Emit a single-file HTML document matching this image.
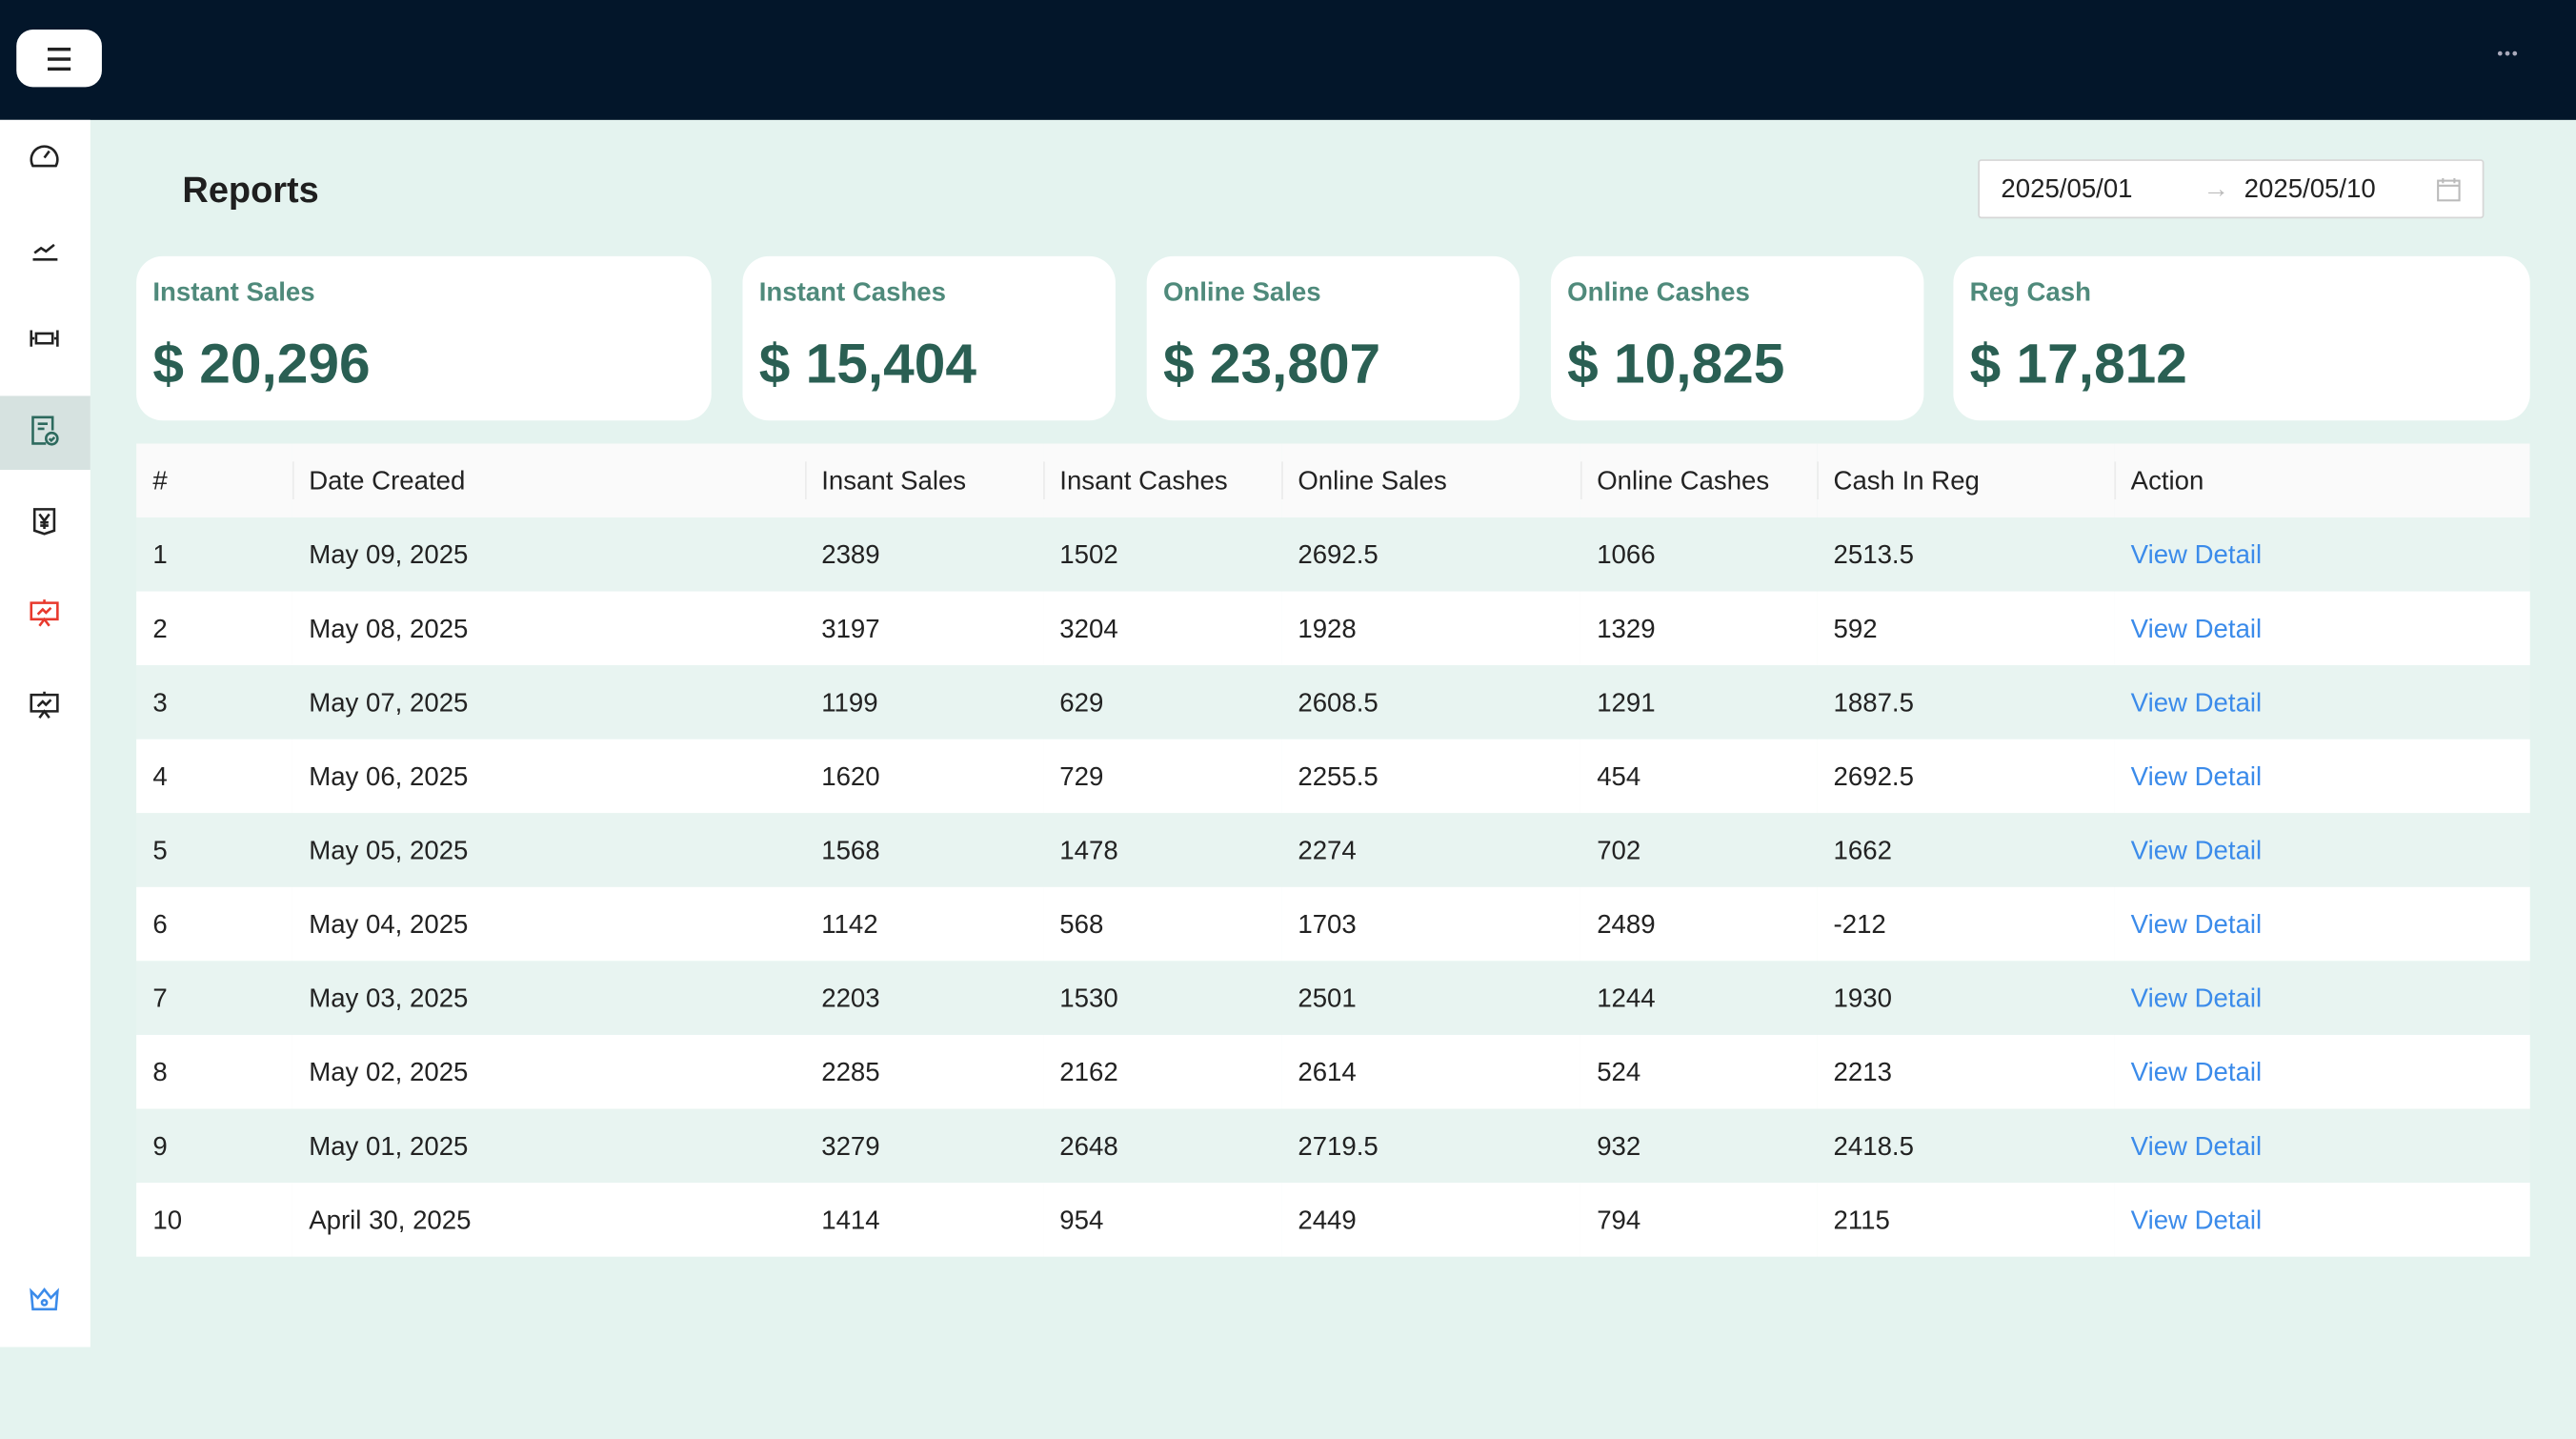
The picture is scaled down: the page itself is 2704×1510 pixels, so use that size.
<!DOCTYPE html>
<html><head><meta charset="utf-8"><style>
*{margin:0;padding:0;box-sizing:border-box}
html,body{width:2704px;height:1510px;overflow:hidden;background:#e4f3ef}
#w{width:1568px;height:876px;position:absolute;left:0;top:0;transform:scale(1.72449,1.72374);transform-origin:0 0;font-family:"Liberation Sans",sans-serif;color:#222;background:#e4f3ef}
.hdr{position:absolute;left:0;top:0;width:1568px;height:73px;background:#03162a}
.hb{position:absolute;left:10px;top:18px;width:52px;height:35px;background:#fff;border-radius:10px}
.hb i{position:absolute;left:19px;width:14px;height:1.6px;background:#222}
.dots{position:absolute;left:1520px;top:28px;color:#aab;font-size:10px;letter-spacing:1px}
.side{position:absolute;left:0;top:73px;width:55px;height:747px;background:#fff}
.act{position:absolute;left:0;top:168px;width:55px;height:45px;background:#d6e2e0}
.ic{position:absolute;left:17px;width:20px;height:20px}
.title{position:absolute;left:111px;top:103px;font-size:22px;font-weight:bold;color:#1f1f1f}
.dp{position:absolute;left:1204px;top:97px;width:308px;height:36px;background:#fff;border:1px solid #d6d6d6;border-radius:2px;font-size:16px}
.dp span{position:absolute;top:9px}
.card{position:absolute;top:156px;height:100px;background:#fff;border-radius:16px}
.card .t{position:absolute;left:10px;top:14px;font-size:16px;font-weight:bold;color:#4f8a7b}
.card .v{position:absolute;left:10px;top:47px;font-size:34px;font-weight:bold;color:#2a5f53}
table{position:absolute;left:83px;top:270px;width:1457px;border-collapse:collapse;font-size:16px}
th{height:45px;background:#fafafa;text-align:left;font-weight:normal;padding-left:10px;padding-top:2px;position:relative;color:#222}
th+th:before{content:"";position:absolute;left:0;top:11px;height:23px;width:1px;background:#ececec}
td{height:45px;padding-left:10px;padding-top:3px}
tr:nth-child(even) td{background:#e8f4f1}
tr:nth-child(odd) td{background:#fff}
td a{color:#3b8bea;text-decoration:none}
</style></head><body><div id="w">
<div class="hdr"><div class="hb"><i style="top:11px"></i><i style="top:17px"></i><i style="top:23px"></i></div><div class="dots">•••</div></div>
<div class="side">
<div class="act"></div>
</div>
<svg class="ic" style="top:85px" viewBox="0 0 20 20" fill="none" stroke="#222" stroke-width="1.5"><path d="M3 16A8 8 0 1 1 17 16Z"/><path d="M10 11l3-4"/></svg>
<svg class="ic" style="top:141px" viewBox="0 0 20 20" fill="none" stroke="#222" stroke-width="1.5"><path d="M3 17h15M4 13l4-3 3 2 5-4"/></svg>
<svg class="ic" style="top:196px" viewBox="0 0 20 20" fill="none" stroke="#222" stroke-width="1.5"><path d="M2 5v10M18 5v10M2 10h2M16 10h2M5 7h10v6H5z"/></svg>
<svg class="ic" style="top:252px" viewBox="0 0 20 20" fill="none" stroke="#2d6a5e" stroke-width="1.5"><path d="M11 18H3V2h12v8M6 6h6M6 9h4"/><circle cx="14.5" cy="15" r="3.5"/><path d="M13 15l1.2 1.2 2-2"/></svg>
<svg class="ic" style="top:307px" viewBox="0 0 20 20" fill="none" stroke="#222" stroke-width="1.5"><path d="M4 3h12v13l-6 2-6-2z"/><path d="M7 6l3 4 3-4M10 10v5M7.5 11h5M7.5 13h5"/></svg>
<svg class="ic" style="top:363px" viewBox="0 0 20 20" fill="none" stroke="#e8392d" stroke-width="1.5"><path d="M2 4h16v10H2zM10 2v2M6 11l3-3 2 2 3-3M7 18l3-4 3 4"/></svg>
<svg class="ic" style="top:419px" viewBox="0 0 20 20" fill="none" stroke="#222" stroke-width="1.5"><path d="M2 4h16v10H2zM10 2v2M6 11l3-3 2 2 3-3M7 18l3-4 3 4"/></svg>
<svg class="ic" style="top:781px" viewBox="0 0 20 20" fill="none" stroke="#3b8bea" stroke-width="1.5"><path d="M2 5l4 4 4-5 4 5 4-4-1 11H3z"/><circle cx="10" cy="12" r="1.5"/></svg>
<div class="title">Reports</div>
<div class="dp"><span style="left:13px">2025/05/01</span><span style="left:136px;color:#bbb">→</span><span style="left:161px">2025/05/10</span>
<svg style="position:absolute;left:278px;top:10px" width="15" height="15" viewBox="0 0 15 15" fill="none" stroke="#bbb" stroke-width="1.2"><rect x="1" y="2" width="13" height="12"/><path d="M1 5h13M4 0.5v3M11 0.5v3"/></svg></div>
<div class="card" style="left:83px;width:350px"><div class="t">Instant Sales</div><div class="v">$ 20,296</div></div>
<div class="card" style="left:452px;width:227px"><div class="t">Instant Cashes</div><div class="v">$ 15,404</div></div>
<div class="card" style="left:698px;width:227px"><div class="t">Online Sales</div><div class="v">$ 23,807</div></div>
<div class="card" style="left:944px;width:227px"><div class="t">Online Cashes</div><div class="v">$ 10,825</div></div>
<div class="card" style="left:1189px;width:351px"><div class="t">Reg Cash</div><div class="v">$ 17,812</div></div>
<table>
<colgroup><col style="width:95px"><col style="width:312px"><col style="width:145px"><col style="width:145px"><col style="width:182px"><col style="width:144px"><col style="width:181px"><col></colgroup>
<tr><th>#</th><th>Date Created</th><th>Insant Sales</th><th>Insant Cashes</th><th>Online Sales</th><th>Online Cashes</th><th>Cash In Reg</th><th>Action</th></tr>
<tr><td>1</td><td>May 09, 2025</td><td>2389</td><td>1502</td><td>2692.5</td><td>1066</td><td>2513.5</td><td><a>View Detail</a></td></tr>
<tr><td>2</td><td>May 08, 2025</td><td>3197</td><td>3204</td><td>1928</td><td>1329</td><td>592</td><td><a>View Detail</a></td></tr>
<tr><td>3</td><td>May 07, 2025</td><td>1199</td><td>629</td><td>2608.5</td><td>1291</td><td>1887.5</td><td><a>View Detail</a></td></tr>
<tr><td>4</td><td>May 06, 2025</td><td>1620</td><td>729</td><td>2255.5</td><td>454</td><td>2692.5</td><td><a>View Detail</a></td></tr>
<tr><td>5</td><td>May 05, 2025</td><td>1568</td><td>1478</td><td>2274</td><td>702</td><td>1662</td><td><a>View Detail</a></td></tr>
<tr><td>6</td><td>May 04, 2025</td><td>1142</td><td>568</td><td>1703</td><td>2489</td><td>-212</td><td><a>View Detail</a></td></tr>
<tr><td>7</td><td>May 03, 2025</td><td>2203</td><td>1530</td><td>2501</td><td>1244</td><td>1930</td><td><a>View Detail</a></td></tr>
<tr><td>8</td><td>May 02, 2025</td><td>2285</td><td>2162</td><td>2614</td><td>524</td><td>2213</td><td><a>View Detail</a></td></tr>
<tr><td>9</td><td>May 01, 2025</td><td>3279</td><td>2648</td><td>2719.5</td><td>932</td><td>2418.5</td><td><a>View Detail</a></td></tr>
<tr><td>10</td><td>April 30, 2025</td><td>1414</td><td>954</td><td>2449</td><td>794</td><td>2115</td><td><a>View Detail</a></td></tr>
</table>
</div></body></html>
